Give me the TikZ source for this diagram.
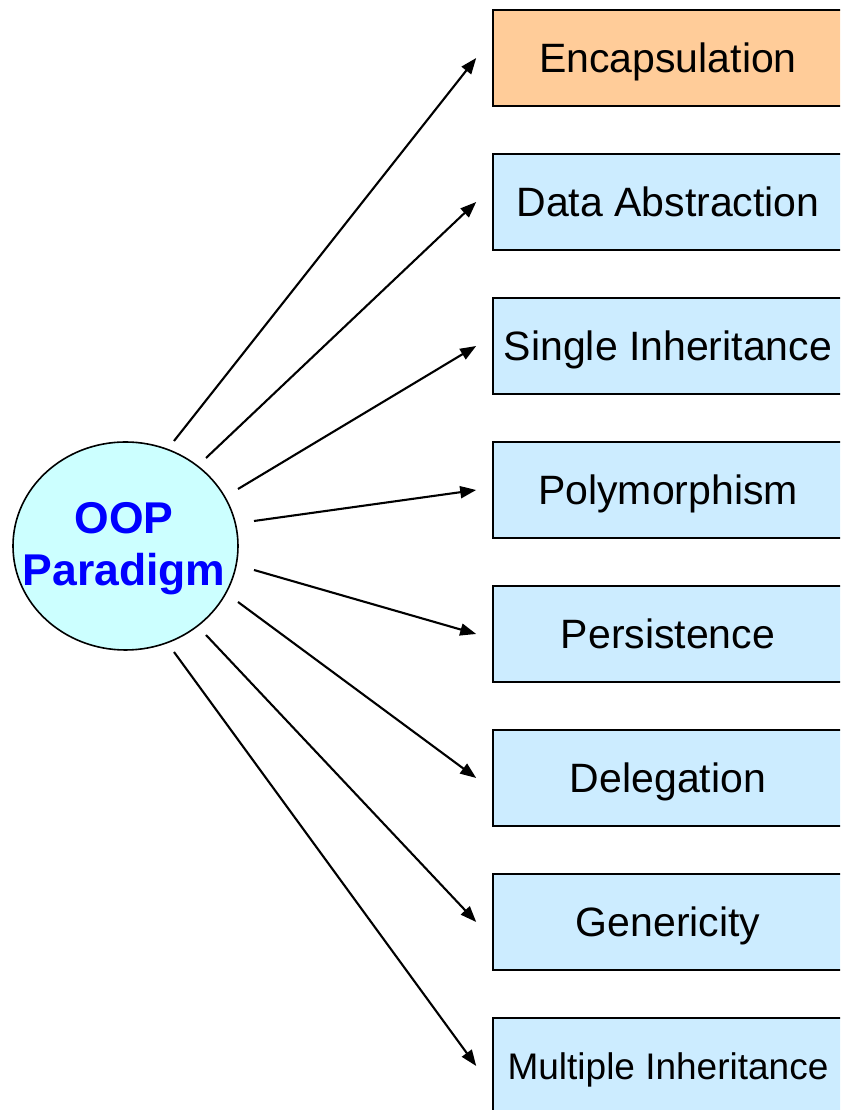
\documentclass[tikz,border=0pt]{standalone}
\usepackage{fontspec}
\setmainfont{Liberation Sans}
\usetikzlibrary{arrows.meta,shapes.geometric}
\definecolor{boxblue}{RGB}{204,236,255}
\definecolor{boxorange}{RGB}{255,204,153}
\definecolor{circfill}{RGB}{204,255,255}
\definecolor{txtblue}{RGB}{0,0,255}
\tikzset{
  topic/.style={draw=black, line width=1.6pt, fill=boxblue, minimum width=350pt, minimum height=96pt, inner sep=0pt, text height=29pt, text depth=0pt, font=\fontsize{41}{49}\selectfont},
  conn/.style={line width=2.1pt, -{Triangle[length=16pt,width=12pt]}},
  hub/.style={ellipse, draw=black, line width=1.6pt, fill=circfill, minimum width=225pt, minimum height=208pt, inner sep=0pt},
  hubtext/.style={align=center, text=txtblue, inner sep=0pt, font=\fontsize{44.5}{52}\selectfont\bfseries}
}
\begin{document}
\begin{tikzpicture}[x=1pt,y=1pt]
\useasboundingbox (0,0) rectangle (840,1110);
\clip (0,0) rectangle (840,1110);
\fill[white] (0,0) rectangle (840,1110);
\node[hub] (hub) at (125.5,564) {};
\node[hubtext] (hubt) at (124,561) {OOP\\Paradigm};
\node[topic, fill=boxorange] (b1) at (668,1052) {Encapsulation};
\node[topic] (b2) at (668,908) {Data Abstraction};
\node[topic] (b3) at (668,764) {Single Inheritance};
\node[topic] (b4) at (668,620) {Polymorphism};
\node[topic] (b5) at (668,476) {Persistence};
\node[topic] (b6) at (668,332) {Delegation};
\node[topic] (b7) at (668,188) {Genericity};
\node[topic, text height=26.5pt, font=\fontsize{37}{44}\selectfont] (b8) at (668,44) {Multiple Inheritance};
\coordinate (s1) at (174,669);
\coordinate (s2) at (206,652);
\coordinate (s3) at (238,621);
\coordinate (s4) at (254,589);
\coordinate (s5) at (254,540);
\coordinate (s6) at (238,508);
\coordinate (s7) at (206,475);
\coordinate (s8) at (174,458);
\foreach \i in {1,...,8}{
  \draw[conn] (s\i) -- ([xshift=-16pt]b\i.west);
}
\end{tikzpicture}
\end{document}
